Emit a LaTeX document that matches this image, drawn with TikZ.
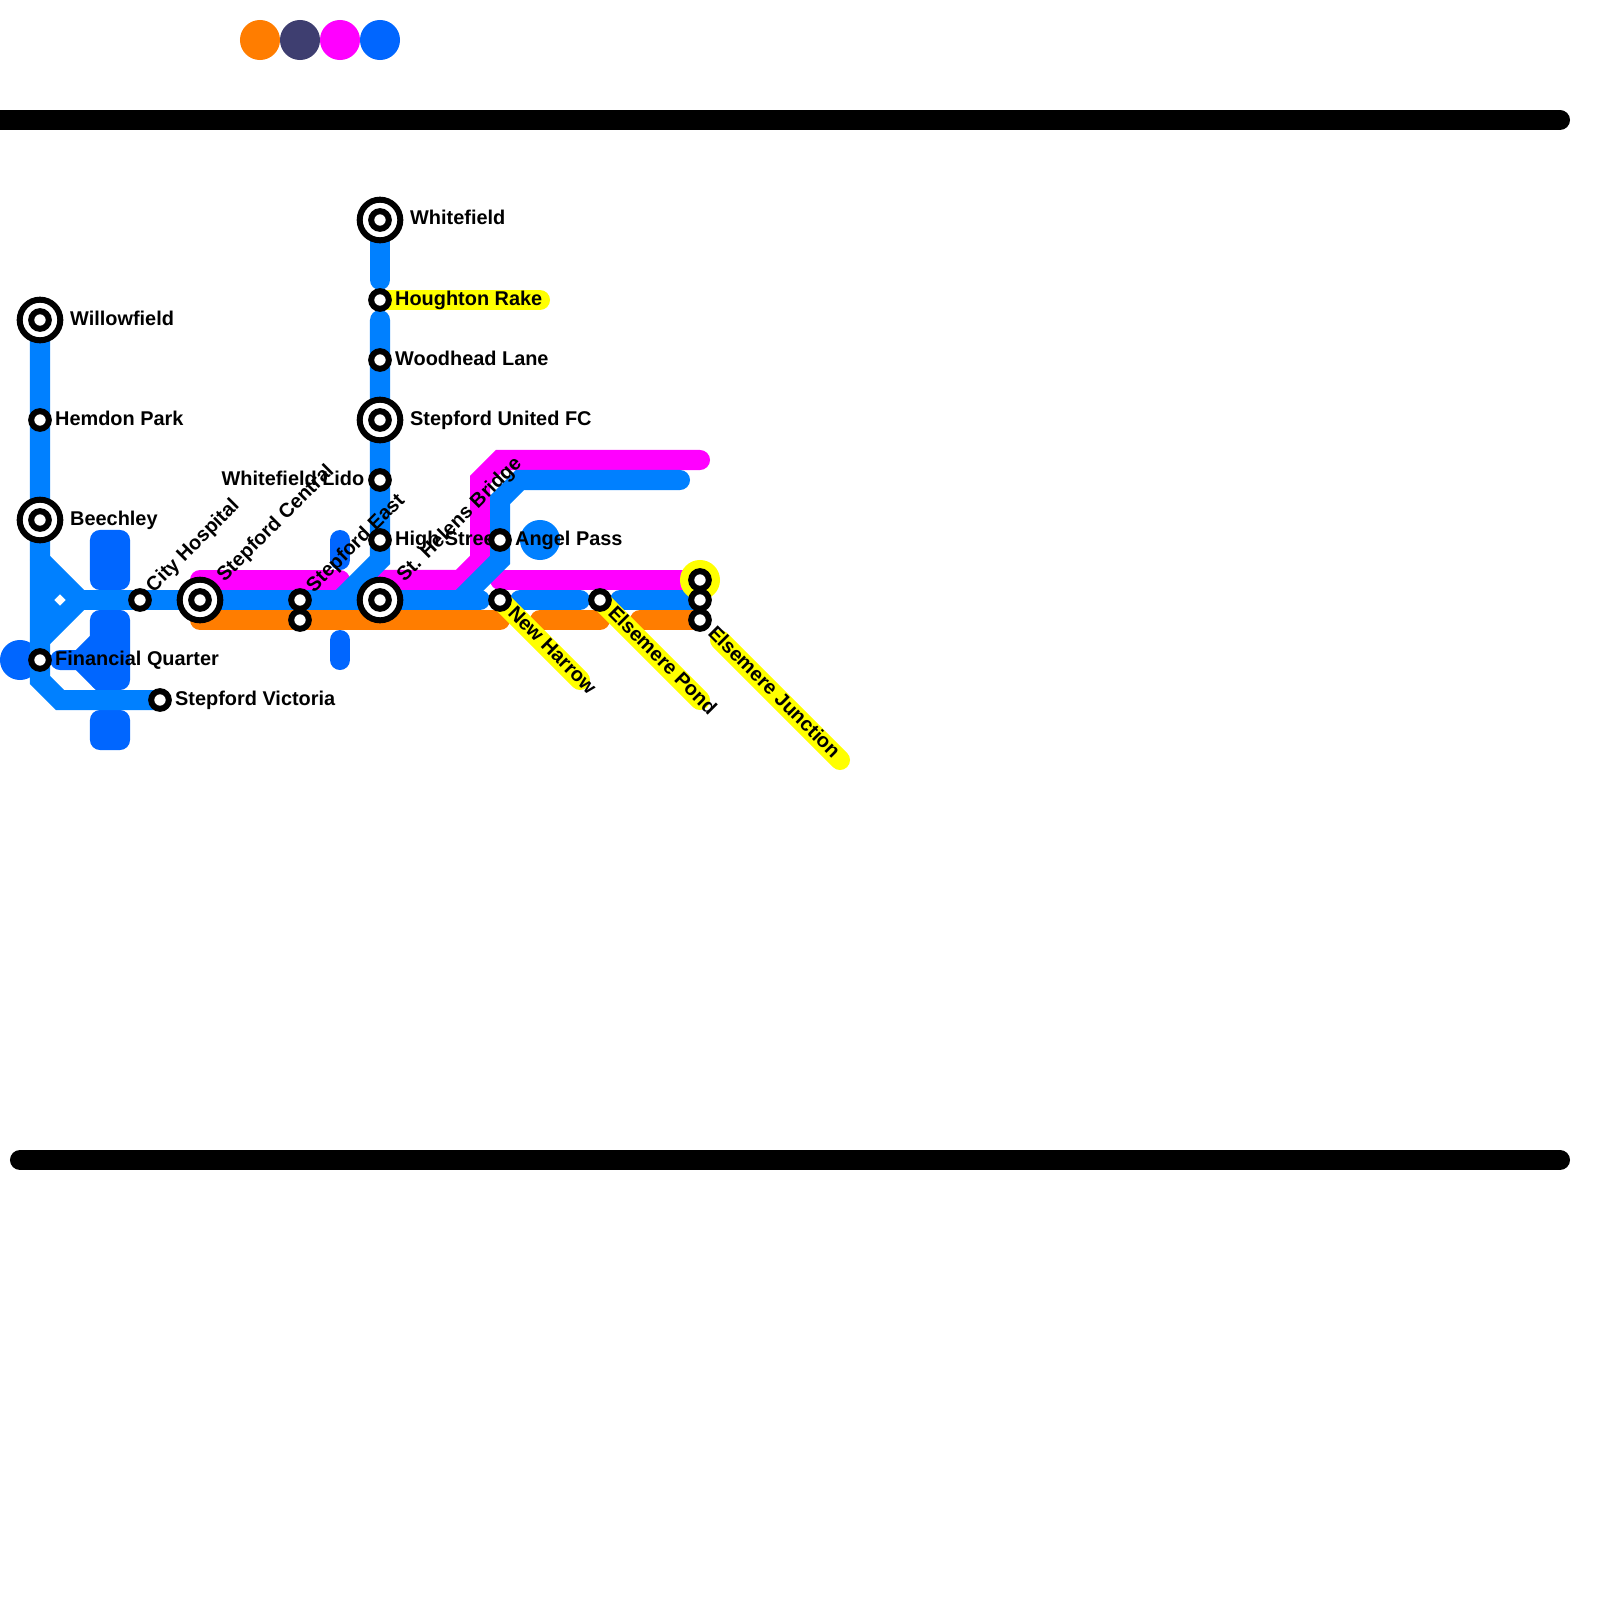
\documentclass[tikz,border=0pt]{standalone}
\usepackage{fontspec}
\setmainfont{Liberation Sans}
\usetikzlibrary{calc}
\usetikzlibrary{positioning}
\definecolor{lblue}{HTML}{0080FF}
\definecolor{dblue}{HTML}{0066FF}
\definecolor{lorange}{HTML}{FF7D00}
\definecolor{lmagenta}{HTML}{FF00FF}
\definecolor{lyellow}{HTML}{FFFF00}
\definecolor{lnavy}{HTML}{3E3E70}
\begin{document}
\begin{tikzpicture}[
		x=0.01cm, y=-0.01cm,
		ln/.style = {line width=2mm, line cap=round, miter limit=10},
		bar/.style = {ln, black},
		pad/.style = {fill=dblue, minimum width=4mm, inner sep=0pt, rounded corners=1mm},
		dot/.style = {circle, minimum size=4mm, inner sep=0pt},
		ringout/.style = {circle, draw=black, fill=white, line width=0.6mm, minimum size=4.06mm, inner sep=0pt},
		ringin/.style = {circle, draw=black, fill=white, line width=0.6mm, minimum size=1.76mm, inner sep=0pt},
		lbl/.style = {inner sep=0pt, text=black, font=\fontsize{5.66}{6}\selectfont\bfseries},
		]
		\useasboundingbox (0,0) rectangle (1600,1600);
		\foreach \st/\x/\y in {willowfield/40/320, hemdon/40/420, beechley/40/520, finquarter/40/660, stepvictoria/160/700, cityhosp/140/600, stepcentral/200/600, stepeast/300/600, stepeastb/300/620, whitefield/380/220, houghton/380/300, woodhead/380/360, stepunited/380/420, lido/380/480, highst/380/540, sthelens/380/600, angel/500/540, newharrow/500/600, elsepond/600/600, elsejunca/700/580, elsejuncb/700/600, elsejuncc/700/620}
			\coordinate (\st) at (\x,\y);
		\foreach \st/\x/\y in {fqbend/40/680, vicbend/60/700, hubup/40/560, hubjoin/80/600, hublow/40/640, hubmid/40/600, hubdiaga/60/580, hubdiagb/60/620, hospend/480/600, wfend/380/280, wfstart/380/320, hsbend/380/560, eastjoin/340/600, pinkend/680/480, angela/520/480, angelb/500/500, angelc/500/560, nhjoin/460/600, harrowa/520/600, harrowb/580/600, pondb/620/600, magwest/200/580, mageast/340/580, magmid/380/580, magb/460/580, magc/480/560, magd/480/480, mage/500/460, magf/700/460, magg/500/580, orwest/200/620, oreast/500/620, ora/540/620, orb/600/620, orc/640/620, yrake/540/300, yharrow/580/680, ypond/700/700, yjunca/720/640, yjuncb/840/760, dba/340/540, dbb/340/560, dbc/340/640, dbd/340/660, dbe/60/660, dbf/80/660, dbg/110/630, dbh/110/690, baraw/0/120, barae/1560/120, barbw/20/1160, barbe/1560/1160}
			\coordinate (\st) at (\x,\y);

		\foreach \x/\c in {260/lorange, 300/lnavy, 340/lmagenta, 380/dblue}
			\node[dot, fill=\c] (key\x) at (\x,40) {};
		\draw[bar] (baraw) -- (barae);
		\draw[bar] (barbw) -- (barbe);

		\node[dot, fill=dblue] (finblob) at (20,660) {};
		\node[dot, fill=lblue] (angelblob) at (540,540) {};
		\node[pad, minimum height=6mm] (pada) at (110,560) {};
		\node[pad, minimum height=8mm] (padb) at (110,650) {};
		\node[pad, minimum height=4mm] (padc) at (110,730) {};

		\draw[ln, dblue] (dbe) -- (dbf) -- (dbg);
		\draw[ln, dblue] (dbf) -- (dbh);
		\draw[ln, dblue] (dba) -- (dbb);
		\draw[ln, dblue] (dbc) -- (dbd);

		\draw[ln, lmagenta] (magwest) -- (mageast);
		\draw[ln, lmagenta] (magmid) -- (magb) -- (magc) -- (magd) -- (mage) -- (magf);
		\draw[ln, lmagenta] (magg) -- (elsejunca);

		\draw[ln, lorange] (orwest) -- (stepeastb) -- (oreast);
		\draw[ln, lorange] (ora) -- (orb);
		\draw[ln, lorange] (orc) -- (elsejuncc);

		\draw[ln, lblue] (willowfield) -- (hemdon) -- (beechley) -- (finquarter) -- (fqbend) -- (vicbend) -- (stepvictoria);
		\draw[ln, lblue] (hubup) -- (hubjoin) -- (hublow);
		\draw[ln, lblue, line cap=butt] (hubmid) -- (hubdiaga);
		\draw[ln, lblue, line cap=butt] (hubmid) -- (hubdiagb);
		\draw[ln, lblue] (hubjoin) -- (cityhosp) -- (stepcentral) -- (stepeast) -- (sthelens) -- (hospend);
		\draw[ln, lblue] (whitefield) -- (wfend);
		\draw[ln, lblue] (wfstart) -- (woodhead) -- (stepunited) -- (lido) -- (highst) -- (hsbend) -- (eastjoin);
		\node[lbl, anchor=base west] (highst-t) at ($(highst)+(14.5,5)$) {High Street};
		\draw[ln, lblue] (pinkend) -- (angela) -- (angelb) -- (angel) -- (angelc) -- (nhjoin);
		\draw[ln, lblue] (harrowa) -- (harrowb);
		\draw[ln, lblue] (pondb) -- (elsejuncb);

		\node[dot, fill=lyellow] (juncblob) at (700,580) {};
		\draw[ln, lyellow] (houghton) -- (yrake);
		\draw[ln, lyellow] (newharrow) -- (yharrow);
		\draw[ln, lyellow] (elsepond) -- (ypond);
		\draw[ln, lyellow] (yjunca) -- (yjuncb);

		\foreach \st in {willowfield, beechley, stepcentral, whitefield, stepunited, sthelens}
			\node[ringout] (\st-o) at (\st) {};
		\foreach \st in {willowfield, hemdon, beechley, finquarter, stepvictoria, cityhosp, stepcentral, stepeast, stepeastb, whitefield, houghton, woodhead, stepunited, lido, highst, sthelens, angel, newharrow, elsepond, elsejunca, elsejuncb, elsejuncc}
			\node[ringin] (\st-i) at (\st) {};

		\foreach \st/\d/\t in {willowfield/29.5/Willowfield, hemdon/14.5/Hemdon Park, beechley/29.5/Beechley, finquarter/14.5/Financial Quarter, stepvictoria/14.5/Stepford Victoria, whitefield/29.5/Whitefield, houghton/14.5/Houghton Rake, woodhead/14.5/Woodhead Lane, stepunited/29.5/Stepford United FC, angel/14.5/Angel Pass}
			\node[lbl, anchor=base west] (\st-t) at ($(\st)+(\d,5)$) {\t};
		\node[lbl, anchor=base east] (lido-t) at ($(lido)+(-15,5)$) {Whitefield Lido};
		\foreach \st/\d/\t in {cityhosp/10/City Hospital, stepcentral/20.6/Stepford Central, stepeast/10/Stepford East, sthelens/20.6/St. Helens Bridge}
			\node[lbl, anchor=base west, rotate=45] (\st-t) at ($(\st)+(\d,-\d)+(3.5,3.5)$) {\t};
		\foreach \st/\d/\t in {newharrow/10/New Harrow, elsepond/10/Elsemere Pond, elsejuncc/10/Elsemere Junction}
			\node[lbl, anchor=base west, rotate=-45] (\st-t) at ($(\st)+(\d,\d)+(-3.5,3.5)$) {\t};
	\end{tikzpicture}
\end{document}
